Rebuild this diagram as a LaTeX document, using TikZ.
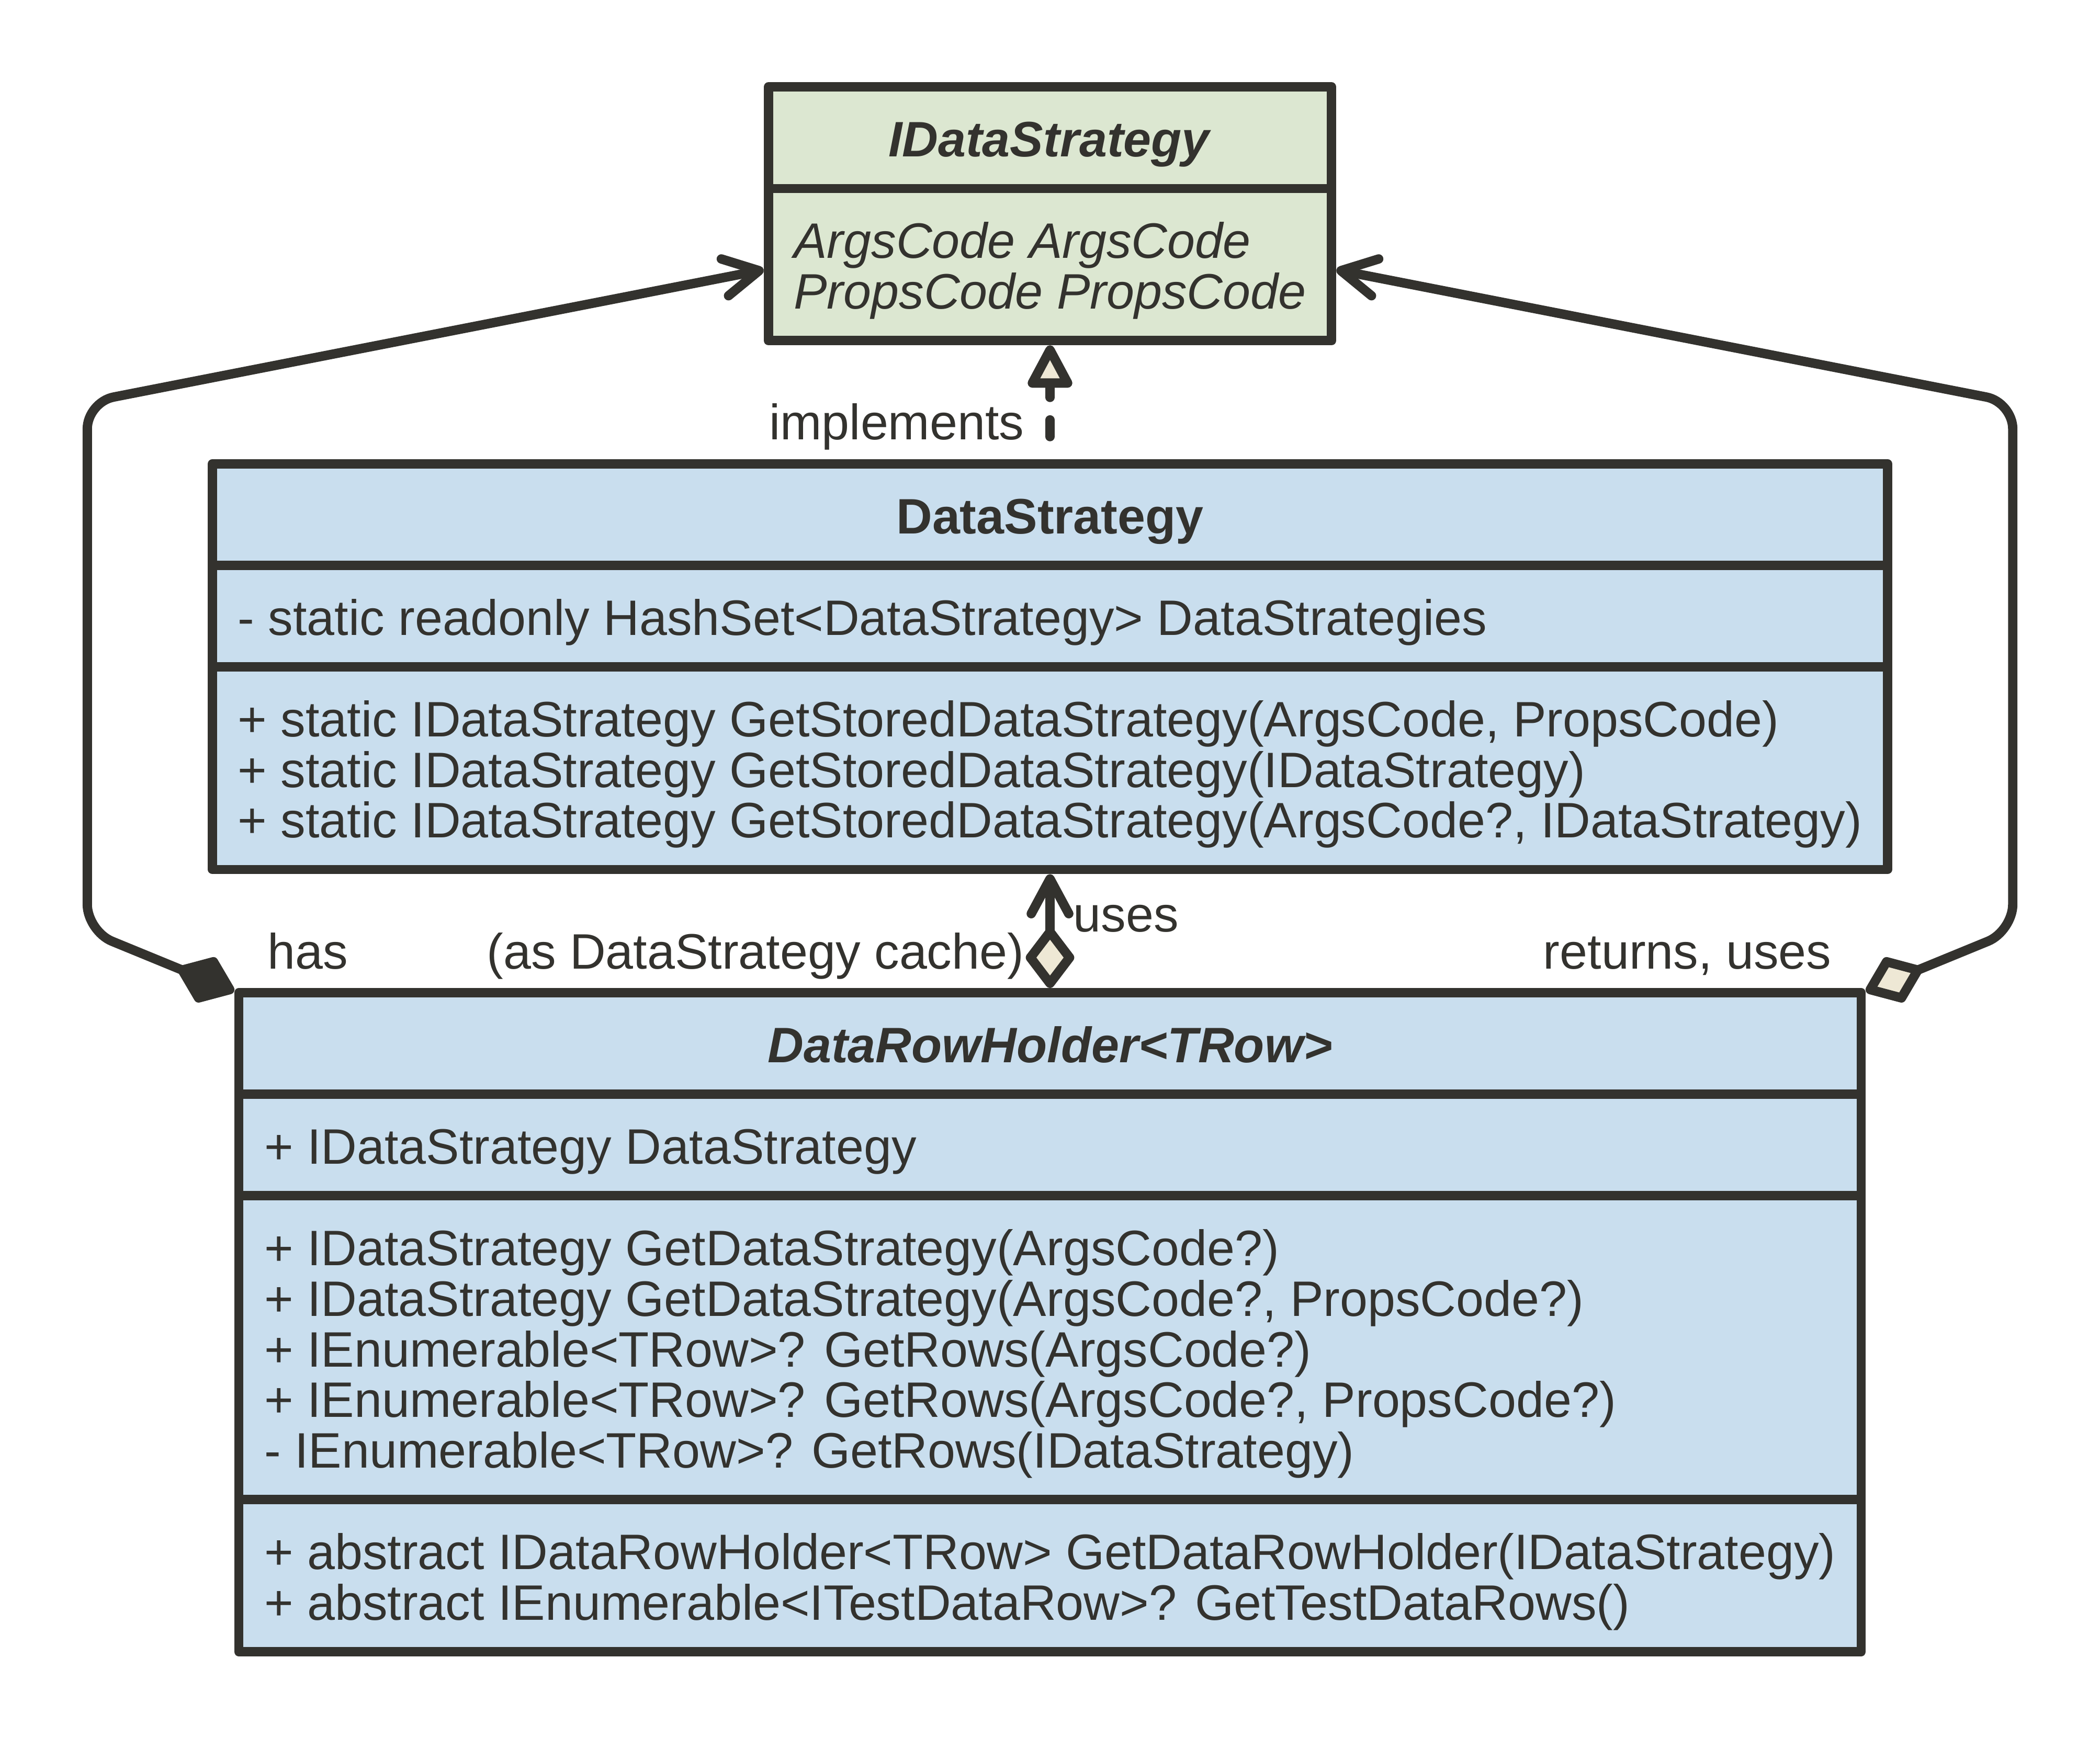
\documentclass[tikz,border=0pt]{standalone}
\usepackage{fontspec}
\setmainfont{Liberation Sans}
\usetikzlibrary{positioning, calc, shapes.multipart, arrows.meta}
\definecolor{ink}{RGB}{51,50,46}
\definecolor{ifacegreen}{RGB}{220,231,209}
\definecolor{classblue}{RGB}{201,222,238}
\definecolor{cream}{RGB}{238,232,213}
\newcommand\umlfont{\fontsize{18.6pt}{18.9pt}\selectfont}
\newcommand\umlrow[1]{\raisebox{0pt}[16.5pt][2.3pt]{#1}}

\begin{document}
\begin{tikzpicture}[
    node distance=42.5pt,
    umlclass/.style={rectangle split, rectangle split part align={center,left,left,left}, draw=ink, line width=3.5pt, line join=round, text=ink, font=\umlfont, inner xsep=9.5pt, inner ysep=7.8pt, align=left},
    iface/.style={umlclass, fill=ifacegreen},
    cls/.style={umlclass, fill=classblue},
    link/.style={draw=ink, color=ink, line width=3.5pt, rounded corners=10pt},
    lbl/.style={text=ink, font=\umlfont, inner sep=0pt},
    openbarb/.tip={Straight Barb[length=13pt, width=14pt, round]},
    aggdia/.tip={Diamond[fill=cream, length=25pt, width=19pt, round]},
    compdia/.tip={Diamond[fill=ink, length=25pt, width=19pt, round]},
    realize/.tip={Triangle[fill=cream, length=18pt, width=18pt, round]}
  ]
    \useasboundingbox (0,0) rectangle (784pt,-649pt);

    % interface
    \node[iface, rectangle split parts=2, anchor=north] (ids) at (392pt,-30.75pt)
      {\umlrow{\textbf{\textit{IDataStrategy}}}
       \nodepart{two}\umlrow{\textit{ArgsCode ArgsCode}}\\\umlrow{\textit{PropsCode PropsCode}}};

    % classes
    \node[cls, rectangle split parts=3, below=of ids] (ds)
      {\umlrow{\textbf{DataStrategy}}
       \nodepart{two}\umlrow{- static readonly HashSet<DataStrategy> DataStrategies}
       \nodepart{three}\umlrow{+ static IDataStrategy GetStoredDataStrategy(ArgsCode, PropsCode)}\\
         \umlrow{+ static IDataStrategy GetStoredDataStrategy(IDataStrategy)}\\
         \umlrow{+ static IDataStrategy GetStoredDataStrategy(ArgsCode?, IDataStrategy)}};
    \node[cls, rectangle split parts=4, below=of ds] (drh)
      {\umlrow{\textbf{\textit{DataRowHolder<TRow>}}}
       \nodepart{two}\umlrow{+ IDataStrategy DataStrategy}
       \nodepart{three}\umlrow{+ IDataStrategy GetDataStrategy(ArgsCode?)}\\
         \umlrow{+ IDataStrategy GetDataStrategy(ArgsCode?, PropsCode?)}\\
         \umlrow{+ IEnumerable<TRow>? GetRows(ArgsCode?)}\\
         \umlrow{+ IEnumerable<TRow>? GetRows(ArgsCode?, PropsCode?)}\\
         \umlrow{- IEnumerable<TRow>? GetRows(IDataStrategy)}
       \nodepart{four}\umlrow{+ abstract IDataRowHolder<TRow> GetDataRowHolder(IDataStrategy)}\\
         \umlrow{+ abstract IEnumerable<ITestDataRow>? GetTestDataRows()}};

    % routing points
    \coordinate (upper) at ($(ids.south)!0.5!(ds.north)$);
    \coordinate (lower) at ($(ds.south)!0.5!(drh.north)$);
    \coordinate (lx) at ($(ds.west)+(-45pt,0)$);
    \coordinate (rx) at ($(ds.east)+(45pt,0)$);

    % connectors
    \draw[link, line cap=round, dash pattern=on 6.25pt off 8.4pt, dash phase=6.25pt, -realize] (ds) -- (ids);
    \draw[link, compdia-openbarb] (drh) -- (lx |- lower) -- (lx |- upper) -- (ids);
    \draw[link, aggdia-openbarb] (drh) -- (rx |- lower) -- (rx |- upper) -- (ids);
    \draw[link, aggdia-openbarb] (drh) -- (ds);

    % labels
    \node[lbl, anchor=base east] (implbl) at ($(ds.north)+(-9.5pt,7.2pt)$) {implements};
    \node[lbl, anchor=base west] (useslbl) at ($(drh.north)+(8.5pt,21pt)$) {uses};
    \node[lbl, anchor=base east] (cachelbl) at ($(drh.north)+(-9.5pt,7.2pt)$) {(as DataStrategy cache)};
    \node[lbl, anchor=base west] (haslbl) at ($(drh.north west)+(12.3pt,7.2pt)$) {has};
    \node[lbl, anchor=base east] (retlbl) at ($(drh.north east)+(-12.7pt,7.2pt)$) {returns, uses};
\end{tikzpicture}
\end{document}
